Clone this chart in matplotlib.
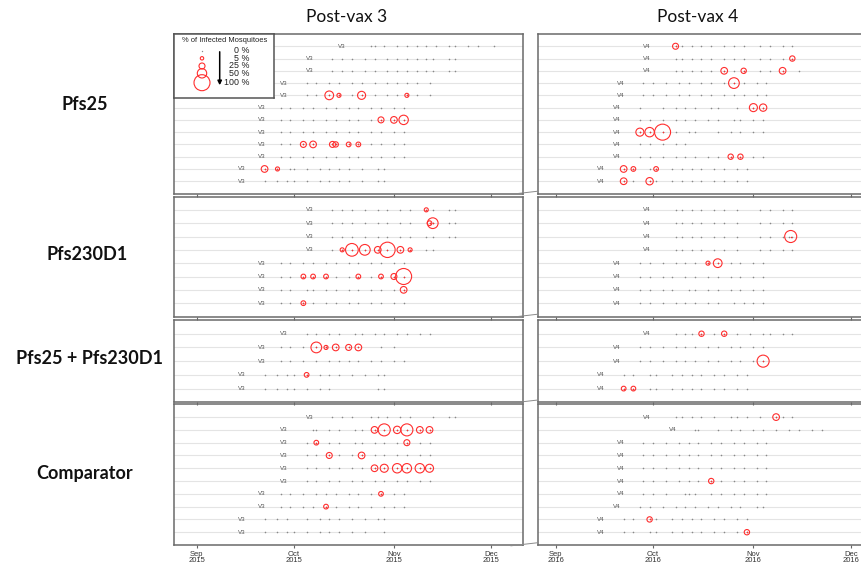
import matplotlib
matplotlib.use("Agg")
import matplotlib.pyplot as plt
from matplotlib.lines import Line2D
import numpy as np

# ---- data: days since 1 Sep (2015 for post-vax 3, 2016 for post-vax 4) ----
# each panel: vaccination day per participant, feed days, positive feeds (day, % infected)
pfs25_pv3_vax = [45, 35, 35, 27, 27, 20, 20, 20, 20, 20, 14, 14]
pfs25_pv3_feeds = [
    [54, 55, 58, 62, 65, 68, 71, 74, 78, 80, 84, 87, 92],
    [42, 45, 48, 52, 55, 59, 62, 65, 68, 71, 73, 78, 80],
    [42, 45, 48, 52, 55, 59, 62, 65, 68, 71, 73, 78, 80],
    [34, 37, 41, 44, 48, 51, 55, 59, 62, 65, 68, 72],
    [34, 37, 41, 44, 48, 51, 55, 59, 62, 65, 68, 72],
    [26, 29, 33, 36, 40, 43, 47, 50, 54, 57, 61, 64],
    [26, 29, 33, 36, 40, 43, 47, 50, 54, 57, 61, 64],
    [26, 29, 33, 36, 40, 43, 47, 50, 54, 57, 61, 64],
    [26, 29, 33, 36, 42, 43, 47, 50, 54, 57, 61, 64],
    [26, 29, 33, 36, 40, 43, 47, 50, 54, 57, 61, 64],
    [21, 25, 29, 30, 34, 38, 41, 44, 47, 51, 56, 58],
    [21, 25, 28, 30, 34, 38, 41, 44, 47, 51, 56, 58],
]
pfs25_pv3_pos = [
    [], [], [], [],
    [(41, 45), (44, 10), (51, 40), (65, 10)],
    [],
    [(57, 25), (61, 30), (64, 50)],
    [],
    [(33, 25), (36, 30), (42, 25), (43, 20), (47, 15), (50, 15)],
    [],
    [(21, 30), (25, 10)],
    [],
]

pfs25_pv4_vax = [28, 28, 28, 20, 20, 19, 19, 19, 19, 19, 14, 14]
pfs25_pv4_feeds = [
    [37, 39, 42, 45, 48, 52, 55, 58, 63, 66, 70, 73],
    [37, 39, 42, 45, 48, 52, 55, 58, 63, 66, 70, 73],
    [37, 39, 42, 45, 48, 52, 55, 58, 63, 66, 70, 75],
    [27, 30, 34, 38, 41, 45, 48, 52, 55, 58, 62, 65],
    [27, 30, 34, 38, 41, 45, 48, 52, 55, 58, 62, 65],
    [26, 33, 37, 40, 43, 48, 50, 56, 61, 64],
    [26, 29, 33, 37, 40, 43, 47, 50, 55, 57, 61, 64],
    [26, 29, 33, 37, 41, 43, 50, 54, 57, 61, 64],
    [26, 29, 33, 37, 40],
    [26, 29, 33, 37, 40, 43, 47, 50, 54, 57, 61, 64],
    [21, 24, 29, 31, 36, 39, 42, 45, 49, 52, 56, 59],
    [21, 24, 29, 31, 36, 39, 42, 45, 49, 52, 56, 59],
]
pfs25_pv4_pos = [
    [(37, 25)],
    [(73, 20)],
    [(52, 30), (58, 20), (70, 30)],
    [(55, 60)],
    [],
    [(61, 40), (64, 35)],
    [],
    [(26, 40), (29, 50), (33, 100)],
    [],
    [(54, 20), (57, 20)],
    [(21, 30), (24, 15), (31, 15)],
    [(21, 30), (29, 35)],
]

d1_pv3_vax = [35, 35, 35, 35, 20, 20, 20, 20]
d1_pv3_feeds = [
    [42, 45, 48, 52, 56, 59, 63, 66, 71, 73, 78, 80],
    [42, 45, 48, 52, 56, 59, 63, 66, 72, 73, 78, 80],
    [42, 45, 48, 52, 56, 59, 63, 66, 71, 73, 78, 80],
    [42, 45, 48, 52, 56, 59, 63, 66, 71, 73],
    [26, 29, 33, 36, 40, 43, 47, 50, 54, 57, 61, 64],
    [26, 29, 33, 36, 40, 43, 47, 50, 54, 57, 61, 64],
    [26, 29, 34, 36, 40, 43, 47, 50, 54, 57, 61, 64],
    [26, 29, 33, 36, 40, 43, 47, 50, 54, 57, 61, 64],
]
d1_pv3_pos = [
    [(71, 10)],
    [(72, 15), (73, 60)],
    [],
    [(45, 10), (48, 75), (52, 60), (56, 30), (59, 95), (63, 30), (66, 10)],
    [],
    [(33, 15), (36, 15), (40, 15), (50, 15), (57, 15), (61, 25), (64, 100)],
    [(64, 30)],
    [(33, 15)],
]

d1_pv4_vax = [28, 28, 28, 28, 19, 19, 19, 19]
d1_pv4_feeds = [
    [37, 39, 42, 45, 49, 52, 56, 63, 66, 70, 73],
    [37, 39, 42, 45, 49, 52, 56, 63, 66, 70, 73],
    [37, 39, 42, 45, 49, 52, 56, 63, 66, 70, 72, 73],
    [37, 39, 42, 45, 49, 52, 56, 63, 66, 70, 73],
    [26, 29, 33, 37, 40, 43, 47, 50, 54, 57, 61, 64],
    [26, 29, 33, 36, 40, 43, 47, 50, 54, 57, 61, 64],
    [26, 29, 33, 36, 41, 43, 47, 50, 54, 57, 61, 64],
    [26, 29, 33, 37, 40, 43, 47, 50, 55, 58, 61, 64],
]
d1_pv4_pos = [
    [], [],
    [(72.5, 70)],
    [],
    [(47, 10), (50, 45)],
    [], [], [],
]

combo_pv3_vax = [27, 20, 20, 14, 14]
combo_pv3_feeds = [
    [34, 37, 41, 44, 49, 51, 55, 58, 62, 65, 69, 72],
    [26, 29, 33, 37, 40, 43, 47, 50, 57, 61],
    [26, 29, 33, 37, 41, 44, 47, 50, 54, 57, 61, 64],
    [21, 25, 28, 30, 34, 38, 41, 44, 48, 52, 56, 58],
    [21, 25, 28, 30, 34, 38, 41, 56, 58],
]
combo_pv3_pos = [
    [],
    [(37, 60), (40, 10), (43, 30), (47, 25), (50, 30)],
    [],
    [(34, 15)],
    [],
]

combo_pv4_vax = [28, 19, 19, 14, 14]
combo_pv4_feeds = [
    [37, 40, 42, 45, 49, 52, 56, 60, 64, 66, 70, 73],
    [26, 29, 33, 37, 40, 43, 47, 50, 54, 57, 61, 64],
    [26, 29, 33, 37, 40, 43, 47, 50, 54, 57, 61, 64],
    [21, 24, 29, 31, 36, 39, 42, 45, 49, 52, 56, 59],
    [21, 24, 29, 31, 36, 39, 42, 45, 49, 52, 56, 59],
]
combo_pv4_pos = [
    [(45, 20), (52, 20)],
    [],
    [(64, 70)],
    [],
    [(21, 15), (24, 15)],
]

comp_pv3_vax = [35, 27, 27, 27, 27, 27, 20, 20, 14, 14]
comp_pv3_feeds = [
    [42, 45, 48, 54, 56, 59, 63, 66, 73, 78, 80],
    [36, 37, 41, 44, 49, 51, 55, 58, 62, 65, 69, 72],
    [34, 37, 41, 44, 49, 51, 55, 58, 62, 65, 69, 72],
    [34, 37, 41, 44, 48, 51, 55, 58, 62, 65, 69, 72],
    [34, 37, 41, 44, 48, 51, 55, 58, 62, 65, 69, 72],
    [34, 37, 41, 44, 48, 51, 55, 58, 62, 65, 69, 72],
    [26, 29, 33, 37, 40, 43, 47, 50, 54, 57, 61, 64],
    [26, 29, 33, 36, 40, 43, 47, 50, 54, 58, 61, 64],
    [21, 25, 28, 34, 38, 41, 44, 48, 52, 56, 58],
    [21, 25, 28, 30, 34, 38, 41, 44, 48, 52, 58],
]
comp_pv3_pos = [
    [],
    [(55, 30), (58, 70), (62, 35), (65, 70), (69, 30), (72, 30)],
    [(37, 15), (65, 25)],
    [(41, 25), (51, 30)],
    [(55, 30), (58, 40), (62, 50), (65, 50), (69, 50), (72, 40)],
    [],
    [(57, 15)],
    [(40, 15)],
    [], [],
]

comp_pv4_vax = [28, 36, 20, 20, 20, 20, 20, 19, 14, 14]
comp_pv4_feeds = [
    [37, 39, 42, 45, 49, 54, 56, 59, 63, 68, 70, 73],
    [43, 44, 50, 54, 57, 61, 64, 68, 72, 75, 79, 82],
    [27, 30, 34, 38, 41, 44, 48, 51, 55, 58, 62, 65],
    [27, 30, 34, 38, 41, 44, 48, 51, 55, 58, 62, 65],
    [27, 30, 34, 38, 41, 44, 48, 51, 55, 58, 62, 65],
    [27, 30, 34, 38, 41, 44, 48, 51, 55, 58, 62, 65],
    [27, 30, 34, 40, 41, 43, 48, 51, 55, 58, 62, 65],
    [26, 29, 33, 37, 40, 43, 47, 50, 54, 57, 62, 64],
    [21, 24, 29, 31, 36, 39, 42, 45, 49, 52, 56, 59],
    [21, 24, 29, 31, 36, 39, 42, 45, 49, 52, 56, 59],
]
comp_pv4_pos = [
    [(68, 30)],
    [], [], [], [],
    [(48, 20)],
    [], [],
    [(29, 20)],
    [(59, 20)],
]

group_names = ["Pfs25", "Pfs230D1", "Pfs25 + Pfs230D1", "Comparator"]
col_titles = ["Post-vax 3", "Post-vax 4"]
month_days = [0, 30, 61, 91]
month_names = ["Sep", "Oct", "Nov", "Dec"]
years = ["2015", "2016"]
legend_pcts = [0, 5, 25, 50, 100]

# ---- layout helpers (figure pixels) ----
W, H = 861, 564
fig = plt.figure(figsize=(W / 100, H / 100), dpi=100)


def px_axes(x0, y0, x1, y1):
    return fig.add_axes([x0 / W, 1 - y1 / H, (x1 - x0) / W, (y1 - y0) / H])


def msize(p):
    r = np.interp(p, [0, 5, 25, 50, 100], [0.5, 1.7, 3.0, 4.7, 8.0])
    return (2 * r * 0.72) ** 2


RED = "#ff2e2e"
SMALL = "Liberation Sans"

row_px = [(34, 193.5), (196.5, 316.5), (320, 402.3), (404.3, 545)]
col_px = [(174, 523.3), (537.7, 888)]
col_xlim = [(-7, 101), (-5.5, 102.5)]

panels = [
    [(pfs25_pv3_vax, pfs25_pv3_feeds, pfs25_pv3_pos), (pfs25_pv4_vax, pfs25_pv4_feeds, pfs25_pv4_pos)],
    [(d1_pv3_vax, d1_pv3_feeds, d1_pv3_pos), (d1_pv4_vax, d1_pv4_feeds, d1_pv4_pos)],
    [(combo_pv3_vax, combo_pv3_feeds, combo_pv3_pos), (combo_pv4_vax, combo_pv4_feeds, combo_pv4_pos)],
    [(comp_pv3_vax, comp_pv3_feeds, comp_pv3_pos), (comp_pv4_vax, comp_pv4_feeds, comp_pv4_pos)],
]

for r, (ytop, ybot) in enumerate(row_px):
    for c, (xl, xr) in enumerate(col_px):
        vax, feeds, pos = panels[r][c]
        n = len(vax)
        ax = px_axes(xl, ytop, xr, ybot)
        ax.set_xlim(*col_xlim[c])
        ax.set_ylim(0, n + 1)
        for i in range(n):
            y = n - i
            ax.axhline(y, color="#e4e4e4", lw=0.8, zorder=0)
            ax.plot(feeds[i], [y] * len(feeds[i]), "o", ms=1.15, color="#888888",
                    mec="none", zorder=2)
            ax.text(vax[i], y, "V%d" % (c + 3), fontsize=4.4, family=SMALL,
                    color="#555555", ha="center", va="center", zorder=3)
            if pos[i]:
                d = [p[0] for p in pos[i]]
                pct = [p[1] for p in pos[i]]
                ax.scatter(d, [y] * len(d), s=[msize(p) for p in pct], facecolors="none",
                           edgecolors=RED, linewidths=0.8, zorder=4)
                ax.plot(d, [y] * len(d), "o", ms=1.1, color=RED, mec="none", zorder=5)
        ax.set_yticks([])
        ax.set_xticks(month_days)
        ax.tick_params(axis="x", direction="out", length=2.5, width=0.8, color="#666666",
                       pad=1.5, labelsize=5.5, labelcolor="#333333")
        if r == len(row_px) - 1:
            ax.set_xticklabels(["%s\n%s" % (m, years[c]) for m in month_names],
                               family=SMALL, linespacing=0.95)
        else:
            ax.set_xticklabels([])
        for sp in ax.spines.values():
            sp.set_color("#6a6a6a")
            sp.set_linewidth(1.1)
        ax.patch.set_alpha(0)

        if r == 0 and c == 0:
            # legend box in the top-left corner
            lg = px_axes(174, 34, 273.7, 98.3)
            lg.set_xlim(174, 273.7)
            lg.set_ylim(98.3, 34)
            lg.set_xticks([])
            lg.set_yticks([])
            for sp in lg.spines.values():
                sp.set_color("#555555")
                sp.set_linewidth(1.1)
            lg.text(225, 40.5, "% of Infected Mosquitoes", fontsize=5.4, family=SMALL,
                    ha="center", va="center", color="#222222")
            ly = [50.7, 58.3, 66, 73.3, 82.7]
            for p, yy in zip(legend_pcts, ly):
                if p == 0:
                    lg.plot([202], [yy], "o", ms=1.0, color="#8a8a8a", mec="none")
                else:
                    lg.scatter([202], [yy], s=msize(p), facecolors="none", edgecolors=RED,
                               linewidths=0.8)
                lg.text(249.5, yy, "%d %%" % p, fontsize=6.4, family=SMALL, ha="right",
                        va="center", color="#222222")
            lg.annotate("", xy=(219.7, 88), xytext=(219.7, 49),
                        arrowprops=dict(arrowstyle="-|>", color="black", lw=1.1,
                                        mutation_scale=6))

# axis-break marks between columns
for ytop, ybot in row_px:
    fig.add_artist(Line2D([511 / W, 537 / W], [1 - (ybot + 0.8) / H, 1 - (ybot - 2.2) / H],
                          color="#8a8a8a", lw=0.7))

# column and row titles
fig.text(346.5 / W, 1 - 17 / H, col_titles[0], fontsize=12.5, family=["Lato", "DejaVu Sans"],
         ha="center", va="center", color="#111111")
fig.text(698 / W, 1 - 17 / H, col_titles[1], fontsize=12.5, family=["Lato", "DejaVu Sans"],
         ha="center", va="center", color="#111111")
label_pos = [(85, 104.5), (87, 254), (89, 358), (85, 473)]
for name, (lx, ly) in zip(group_names, label_pos):
    fig.text(lx / W, 1 - ly / H, name, fontsize=13, fontweight="bold",
             family=["Lato", "DejaVu Sans"], ha="center", va="center", color="#111111")

fig.savefig("out.png", dpi=100)
